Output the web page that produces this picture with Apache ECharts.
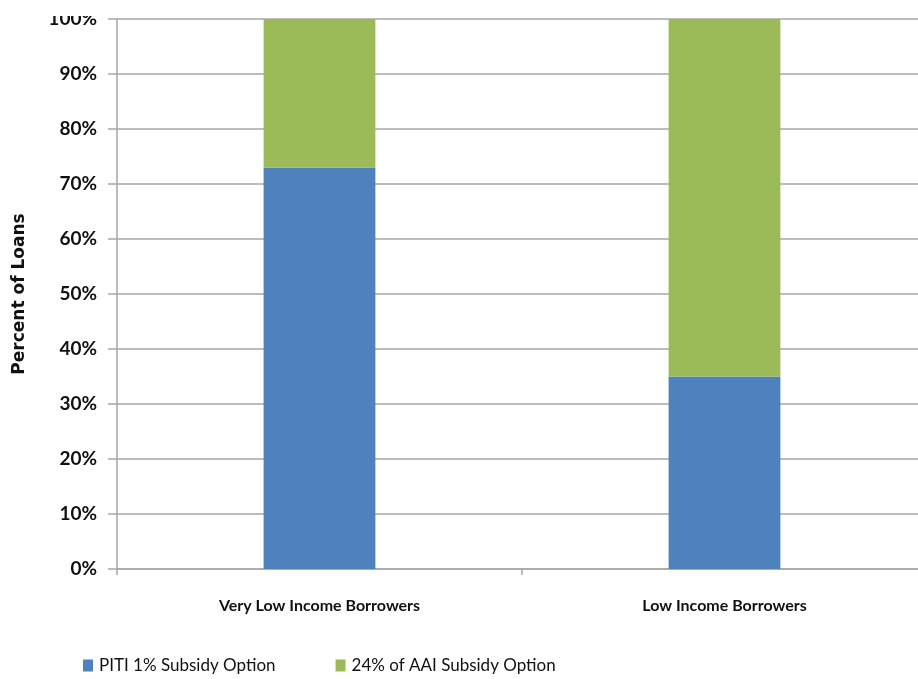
<!DOCTYPE html>
<html>
<head>
<meta charset="utf-8">
<style>
  html, body { margin: 0; padding: 0; background: #ffffff; overflow: hidden; width: 918px; height: 679px; }
  /* plot area runs slightly past the right edge of the page */
  #chart { width: 940px; height: 679px; }
</style>
<script src="https://cdn.jsdelivr.net/npm/echarts@6/dist/echarts.min.js"></script>
</head>
<body>
<div id="chart"></div>
<script>
// Share of loans under each subsidy option, by borrower income group
const categories = ['Very Low Income Borrowers', 'Low Income Borrowers'];
const pitiSubsidy = [73, 35];
const aaiSubsidy = [27, 65];
const seriesNames = ['PITI 1% Subsidy Option', '24% of AAI Subsidy Option'];
const yTicks = [0, 10, 20, 30, 40, 50, 60, 70, 80, 90, 100];

const FONT = 'Lato, "Noto Sans", sans-serif';
const GRID_GRAY = '#a6a6a6';

const chart = echarts.init(document.getElementById('chart'), null, { renderer: 'canvas' });

chart.setOption({
  animation: false,
  backgroundColor: '#ffffff',
  grid: { left: 117, top: 19, width: 810, height: 550, containLabel: false },
  legend: {
    left: 83,
    top: 657,
    padding: 0,
    itemWidth: 10,
    itemHeight: 12,
    itemGap: 60,
    icon: 'rect',
    textStyle: { fontFamily: FONT, fontSize: 17, color: '#111111', padding: [0, 0, 0, 1] },
    data: seriesNames
  },
  xAxis: {
    type: 'category',
    data: categories,
    axisLine: { show: true, lineStyle: { color: GRID_GRAY, width: 1.5 } },
    axisTick: { show: true, length: 6, alignWithLabel: false, lineStyle: { color: GRID_GRAY, width: 1.5 } },
    axisLabel: {
      interval: 0,
      margin: 29,
      fontFamily: FONT,
      fontSize: 16,
      fontWeight: 'bold',
      color: '#111111'
    }
  },
  yAxis: {
    type: 'value',
    min: 0,
    max: 100,
    interval: 10,
    name: 'Percent of Loans',
    nameLocation: 'middle',
    nameGap: 89,
    nameTextStyle: { fontFamily: '"DejaVu Sans", sans-serif', fontSize: 17, fontWeight: 'bold', color: '#111111' },
    axisLine: { show: true, lineStyle: { color: GRID_GRAY, width: 1.5 } },
    axisTick: { show: true, inside: false, length: 9, lineStyle: { color: GRID_GRAY, width: 1.5 } },
    splitLine: { show: true, lineStyle: { color: GRID_GRAY, width: 1.5 } },
    axisLabel: {
      margin: 20,
      fontFamily: FONT,
      fontSize: 19,
      fontWeight: 'bold',
      color: '#111111',
      formatter: function (v) { return yTicks.indexOf(v) >= 0 ? v + '%' : ''; }
    }
  },
  // the top label sits against the upper page edge, trimmed
  graphic: [{
    type: 'rect',
    z: 100,
    shape: { x: 0, y: 0, width: 104, height: 16 },
    style: { fill: '#ffffff' }
  }],
  series: [
    {
      name: seriesNames[0],
      type: 'bar',
      stack: 'loans',
      barWidth: '27.6%',
      itemStyle: { color: '#4f81bd' },
      data: pitiSubsidy
    },
    {
      name: seriesNames[1],
      type: 'bar',
      stack: 'loans',
      barWidth: '27.6%',
      itemStyle: { color: '#9bbb59' },
      data: aaiSubsidy
    }
  ]
});
</script>
</body>
</html>
